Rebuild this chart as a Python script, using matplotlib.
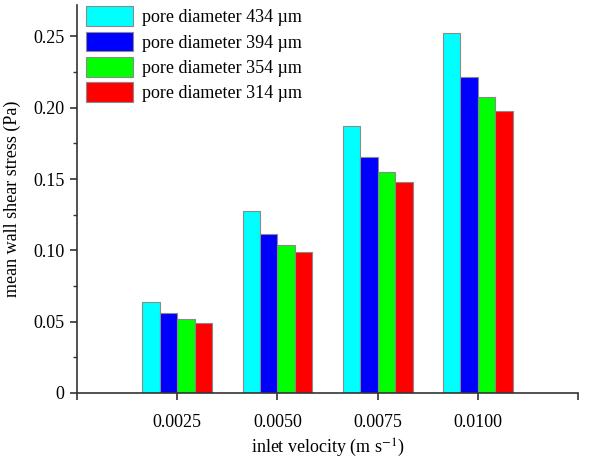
import numpy as np
import matplotlib
matplotlib.use("Agg")
import matplotlib.pyplot as plt
from matplotlib.ticker import MultipleLocator

plt.rcParams['font.family'] = ['Liberation Serif', 'DejaVu Serif']
plt.rcParams['mathtext.fontset'] = 'stix'

# data
velocity = [0.0025, 0.0050, 0.0075, 0.0100]
tick_labels = ['0.0025', '0.0050', '0.0075', '0.0100']
series_names = ['pore diameter 434 µm', 'pore diameter 394 µm',
                'pore diameter 354 µm', 'pore diameter 314 µm']
d434 = [0.0641, 0.1273, 0.1873, 0.2521]
d394 = [0.0564, 0.1117, 0.1657, 0.2217]
d354 = [0.0517, 0.1037, 0.1552, 0.2074]
d314 = [0.0494, 0.0985, 0.1482, 0.1980]
colors = ['#00ffff', '#0000ff', '#00ff00', '#ff0000']

fig = plt.figure(figsize=(6.06, 4.58), dpi=100)
ax = fig.add_axes([0.127, 0.142, 0.827, 0.847])

w = 0.000435
x = np.array(velocity)
for i, (vals, name, c) in enumerate(zip([d434, d394, d354, d314], series_names, colors)):
    ax.bar(x + (i - 1.5) * w, vals, width=w, color=c, edgecolor='#8a8a8a',
           linewidth=0.8, label=name)

ax.set_xlim(0, 0.0125)
ax.set_ylim(0, 0.272)
ax.set_xticks([0.0, 0.0025, 0.0050, 0.0075, 0.0100, 0.0125])
ax.set_xticklabels([''] + tick_labels + [''])
ax.yaxis.set_minor_locator(MultipleLocator(0.025))
ax.set_yticks([0, 0.05, 0.10, 0.15, 0.20, 0.25])
ax.set_yticklabels(['0', '0.05', '0.10', '0.15', '0.20', '0.25'])

for s in ['top', 'right']:
    ax.spines[s].set_visible(False)
for s in ['left', 'bottom']:
    ax.spines[s].set_color('#333333')
    ax.spines[s].set_linewidth(1.2)

ax.tick_params(axis='both', which='major', labelsize=13, length=5, width=1.2,
               color='#333333', direction='out')
ax.tick_params(axis='y', which='minor', length=3, width=1.0, color='#333333')
ax.tick_params(axis='x', pad=10)
ax.tick_params(axis='y', pad=4)

ax.set_xlabel('inlet velocity (m s$^{-1}$)', fontsize=13, labelpad=4)
ax.set_ylabel('mean wall shear stress (Pa)', fontsize=13, labelpad=9)

ax.legend(loc='upper left', bbox_to_anchor=(0.0, 1.02), frameon=False,
          fontsize=13, handlelength=2.6, handleheight=1.3, labelspacing=0.3,
          handletextpad=0.5, borderaxespad=0.1)

fig.savefig('out.png', dpi=100)
